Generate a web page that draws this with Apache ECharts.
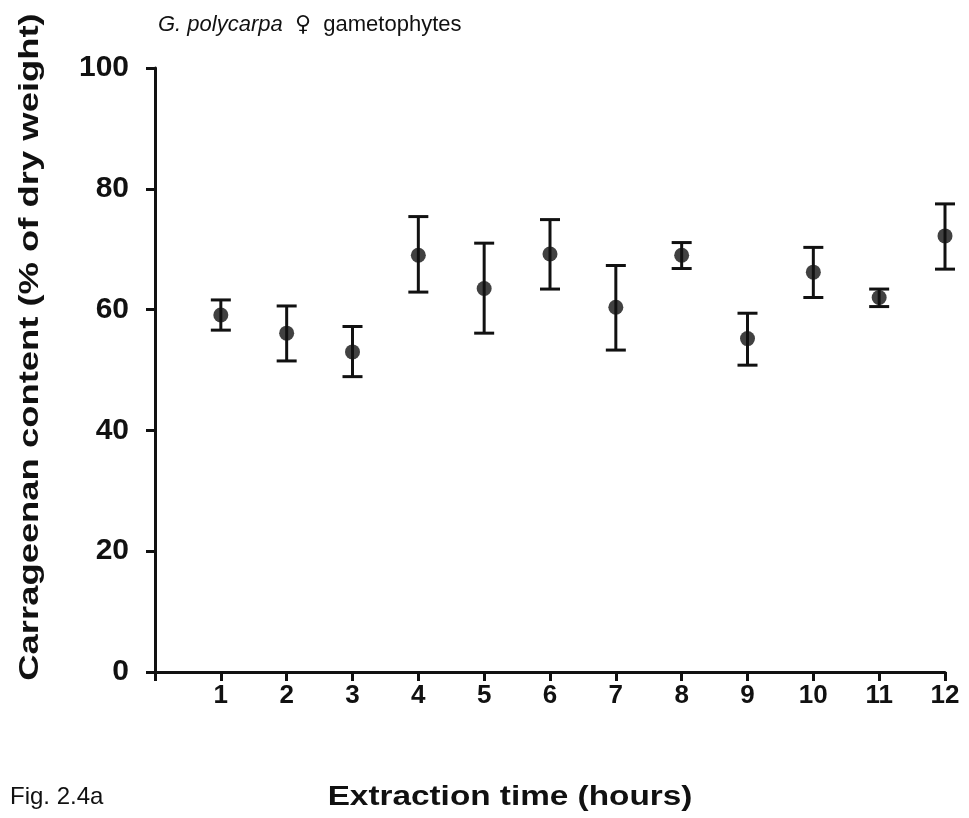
<!DOCTYPE html>
<html><head><meta charset="utf-8">
<script src="https://cdn.jsdelivr.net/npm/echarts@6/dist/echarts.min.js"></script>
<style>html,body{margin:0;padding:0;background:#fff}#c{width:969px;height:818px}</style>
</head><body><div id="c"></div>
<script>
var hours = [1,2,3,4,5,6,7,8,9,10,11,12];
var meanValues = [59.1,56.1,53.0,69.0,63.5,69.2,60.4,69.0,55.2,66.2,62.0,72.2];
var upperValues = [61.6,60.6,57.2,75.4,71.0,74.9,67.3,71.1,59.4,70.3,63.4,77.5];
var lowerValues = [56.6,51.5,48.9,62.9,56.1,63.4,53.3,66.8,50.8,62.0,60.5,66.7];
var xTicks = [0,1,2,3,4,5,6,7,8,9,10,11,12];
var yTicks = [0,20,40,60,80,100];

var chart = echarts.init(document.getElementById('c'));
var FONT = '"Liberation Sans", Arial, sans-serif';
var pts = hours.map(function(h,i){return [h, meanValues[i]];});
var errs = hours.map(function(h,i){return [h, lowerValues[i], upperValues[i]];});
chart.setOption({
  animation:false,
  backgroundColor:'#fff',
  grid:{left:155,top:68,width:790,height:604},
  xAxis:{type:'value',min:0,max:12,interval:1,
    axisLine:{show:true,lineStyle:{color:'#111',width:3}},
    axisTick:{show:true,length:9,lineStyle:{color:'#111',width:3}},
    splitLine:{show:false},
    axisLabel:{margin:11,fontFamily:FONT,fontWeight:'bold',fontSize:26,color:'#111',
      formatter:function(v){return v===0?'':String(v);}}
  },
  yAxis:{type:'value',min:0,max:100,interval:20,
    axisLine:{show:true,lineStyle:{color:'#111',width:3}},
    axisTick:{show:true,length:9,lineStyle:{color:'#111',width:3}},
    splitLine:{show:false},
    axisLabel:{margin:26,fontFamily:FONT,fontWeight:'bold',fontSize:30,color:'#111'}
  },
  series:[
    {type:'custom',data:errs,renderItem:function(params,api){
      var x=api.value(0);
      var lo=api.coord([x,api.value(1)]);
      var hi=api.coord([x,api.value(2)]);
      var hw=10;
      var st={stroke:'#111',lineWidth:3};
      return {type:'group',children:[
        {type:'line',shape:{x1:lo[0],y1:lo[1],x2:hi[0],y2:hi[1]},style:st},
        {type:'line',shape:{x1:lo[0]-hw,y1:lo[1],x2:lo[0]+hw,y2:lo[1]},style:st},
        {type:'line',shape:{x1:hi[0]-hw,y1:hi[1],x2:hi[0]+hw,y2:hi[1]},style:st}
      ]};
    },z:2},
    {type:'scatter',data:pts,symbol:'circle',symbolSize:15,itemStyle:{color:'#111'},z:3}
  ],
  graphic:[
    {type:'text',left:158,top:14,style:{
      text:'{i|G. polycarpa}{n|  }{s|♀}{n|  gametophytes}',
      rich:{i:{fontFamily:FONT,fontStyle:'italic',fontSize:22,fill:'#111'},
            s:{fontFamily:'"DejaVu Sans", sans-serif',fontWeight:'bold',fontSize:22,fill:'#111'},
            n:{fontFamily:FONT,fontSize:22,fill:'#111'}}}},
    {type:'text',x:30,y:347,rotation:Math.PI/2,scaleX:1.3,style:{
      text:'Carrageenan content (% of dry weight)',fontFamily:FONT,fontWeight:'bold',
      fontSize:28,fill:'#111',align:'center',verticalAlign:'middle'}},
    {type:'text',x:510,y:797,scaleX:1.19,style:{text:'Extraction time (hours)',fontFamily:FONT,fontWeight:'bold',
      fontSize:28,fill:'#111',align:'center',verticalAlign:'middle'}},
    {type:'text',x:10,y:797,style:{text:'Fig. 2.4a',fontFamily:FONT,
      fontSize:24,fill:'#111',align:'left',verticalAlign:'middle'}}
  ]
});
</script></body></html>
